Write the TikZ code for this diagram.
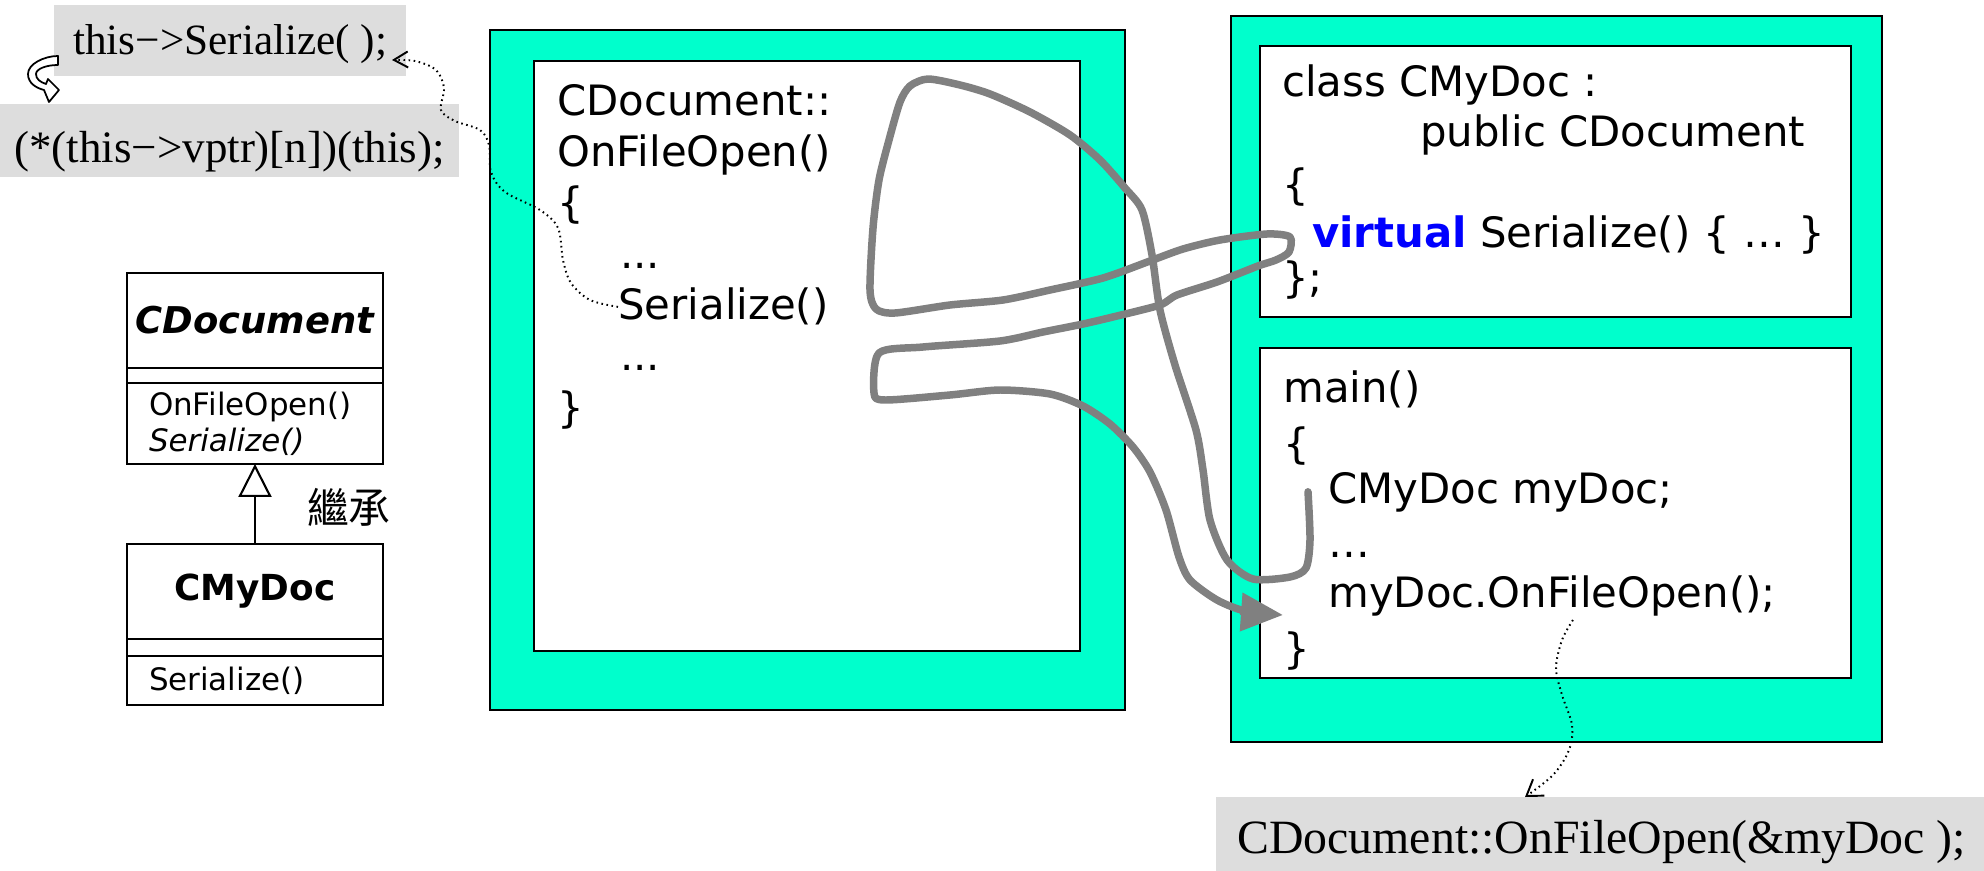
\documentclass[tikz,border=0pt]{standalone}
\usepackage{fontspec}
\setmainfont{Liberation Serif}
\newfontfamily\codefont{DejaVu Sans}[BoldFont={DejaVu Sans Bold},ItalicFont={DejaVu Sans Oblique},BoldItalicFont={DejaVu Sans Bold Oblique}]
\newfontfamily\cjkfont{Noto Sans CJK TC}
\usepackage{xcolor}
\usetikzlibrary{positioning}
\usetikzlibrary{arrows.meta}

\definecolor{slidegreen}{HTML}{00FFCC}
\definecolor{notegray}{HTML}{DDDDDD}
\definecolor{flowgray}{HTML}{808080}
\definecolor{virtblue}{HTML}{0000FF}

\begin{document}
\begin{tikzpicture}[x=0.02cm, y=-0.02cm,
    frame/.style={
            draw,
            rectangle,
            fill=slidegreen,
            line width=1.1pt,
            anchor=north west,
            outer sep=0pt
        },
        pane/.style={
            draw,
            rectangle,
            fill=white,
            line width=1.3pt,
            anchor=north west,
            outer sep=0pt
        },
        code/.style={
            anchor=base west,
            inner sep=0pt,
            font=\codefont\fontsize{23.8pt}{28pt}\selectfont
        },
        note/.style={
            fill=notegray,
            anchor=base west,
            inner ysep=0pt
        },
        uml/.style={
            draw,
            rectangle,
            line width=1.2pt,
            outer sep=0pt,
            inner sep=0pt,
            minimum width=5.12cm
        },
        umlops/.style={
            uml,
            text width=4.24cm,
            align=left,
            font=\codefont\fontsize{17.6pt}{20.4pt}\selectfont
        },
        flow/.style={
            draw=flowgray,
            line width=0.15cm,
            line cap=round,
            line join=round,
            -{Triangle[length=0.84cm,width=0.74cm]}
        },
        callout/.style={
            dash pattern=on 0.9pt off 2pt,
            line width=1.1pt
        }
]
    \useasboundingbox (0,0) rectangle (1984,871);

    % frames
    \node [frame, minimum width=12.7cm, minimum height=13.6cm] (appframe) at (490,30) {};
    \node [pane, minimum width=10.92cm, minimum height=11.8cm] (apppane) at (534,61) {};
    \node [frame, minimum width=13.02cm, minimum height=14.52cm] (docframe) at (1231,16) {};
    \node [pane, minimum width=11.82cm, minimum height=5.42cm] (clspane) at (1260,46) {};
    \node [pane, minimum width=11.82cm, minimum height=6.6cm] (mainpane) at (1260,348) {};

    \node [code] (midhead) at (557,116) {CDocument::};
    \node [code] (midname) at (557,167) {OnFileOpen()};
    \node [code] (midopen) at (557,218) {\{};
    \node [code] (middots) at (620,269) {...};
    \node [code] (midser) at (618,320) {Serialize()};
    \node [code] (middots2) at (620,371) {...};
    \node [code] (midclose) at (557,422) {\}};

    \node [code] (clsline) at (1282,97) {class CMyDoc :};
    \node [code] (clsbase) at (1420,147) {public CDocument};
    \node [code] (clsopen) at (1282,200) {\{};
    \node [code] (clsvirt) at (1312,248) {\textcolor{virtblue}{\bfseries virtual} Serialize() \{ … \}};
    \node [code] (clsclose) at (1282,293) {\};};

    \node [code] (mainhead) at (1283,402) {main()};
    \node [code] (mainopen) at (1283,458) {\{};
    \node [code] (maindecl) at (1328,503) {CMyDoc myDoc;};
    \node [code] (maindots) at (1328,557) {…};
    \node [code] (maincall) at (1328,607) {myDoc.OnFileOpen();};
    \node [code] (mainclose) at (1283,663) {\}};

    % notes
    \node [note, inner xsep=0.38cm, text height=1cm, text depth=0.42cm,
            font=\fontsize{24.6pt}{30pt}\selectfont] (thisser) at (54,55) {this−>Serialize( );};
    \node [note, inner xsep=0.28cm, text height=1.18cm, text depth=0.28cm,
            font=\fontsize{25.6pt}{30pt}\selectfont] (vcall) at (0,163) {(*(this−>vptr)[n])(this);};
    \node [note, inner xsep=0.42cm, text height=1.12cm, text depth=0.36cm,
            font=\fontsize{27.2pt}{32pt}\selectfont] (cdocopen) at (1216,853) {CDocument::OnFileOpen(\&myDoc );};

    \filldraw [fill=white, line width=1pt, line join=round]
        (58,56) .. controls (44,56) and (28,64) .. (28,74)
        .. controls (28,83) and (36,88) .. (44,90)
        -- (49,102) -- (59,90) -- (48,79) -- (46,84)
        .. controls (40,82) and (36,79) .. (36,74)
        .. controls (36,69) and (46,65) .. (58,65) -- cycle;

    % class diagram
    \node [uml, minimum height=1.9cm, font=\codefont\bfseries\itshape\fontsize{21pt}{25pt}\selectfont] (cdoc) at (255,320.5) {CDocument};
    \node [uml, minimum height=0.3cm, below=0pt of cdoc] (cdocattr) {};
    \node [umlops, minimum height=1.62cm, below=0pt of cdocattr] (cdocops) {OnFileOpen()\\\textit{Serialize()}};
    \node [uml, minimum height=1.9cm, font=\codefont\bfseries\fontsize{20.4pt}{24pt}\selectfont] (mydoc) at (255,591.5) {CMyDoc};
    \node [uml, minimum height=0.34cm, below=0pt of mydoc] (mydocattr) {};
    \node [umlops, minimum height=0.98cm, below=0pt of mydocattr] (mydocops) {Serialize()};

    \draw [line width=1.2pt, -{Triangle[open,length=0.66cm,width=0.66cm]}] (mydoc.north) --
        node [pos=0.46, right=1.02cm, inner sep=0pt, font=\cjkfont\fontsize{23.8pt}{28pt}\selectfont] (inherit) {繼承} (cdocops.south);

    % call flow
    \coordinate (flowstart) at ([xshift=-0.4cm]maindecl.west);
    \coordinate (flowend) at (1283,615);
    \draw [flow] plot [smooth, tension=0.45] coordinates {(flowstart) (1310,540) (1306,568) (1290,577)
        (1253,579) (1227,560) (1210,520) (1203,470) (1196,430) (1175,365) (1160,310) (1152,255)
        (1142,210) (1125,188) (1100,160) (1070,135) (1030,112) (990,94) (960,85) (928,79) (910,86)
        (900,102) (889,140) (879,180) (873,228) (870,290) (876,309) (895,313) (950,305) (1003,300)
        (1050,290) (1103,278) (1150,261) (1183,249) (1220,240) (1267,234) (1290,237) (1289,252)
        (1276,260) (1258,266) (1217,282) (1177,295) (1160,305) (1117,316) (1083,324) (1043,332)
        (1000,341) (923,347) (879,353) (874,393) (885,400) (950,395) (1000,390) (1050,394)
        (1083,406) (1110,424) (1133,447) (1150,472) (1166,510) (1179,557) (1190,580) (1217,600)
        (1245,611) (flowend)};

    % dotted call-outs
    \coordinate (sertip) at (392,60);
    \draw [callout, -{Straight Barb[length=0.28cm,width=0.32cm]}] plot [smooth, tension=0.55] coordinates {(midser.west)
        (590,300) (571,283) (563,260) (558,228) (540,210) (505,192) (491,172) (489,145) (480,130)
        (455,121) (441,110) (444,88) (436,70) (415,61) (sertip)};
    \coordinate (calltap) at ([xshift=4.9cm, yshift=-0.26cm]maincall.base west);
    \coordinate (cdoctip) at (1525,797);
    \draw [callout, -{Straight Barb[length=0.3cm,width=0.4cm]}] plot [smooth, tension=0.55] coordinates {(calltap)
        (1562,640) (1556,668) (1562,695) (1572,725) (1569,750) (1553,775) (cdoctip)};
\end{tikzpicture}
\end{document}
